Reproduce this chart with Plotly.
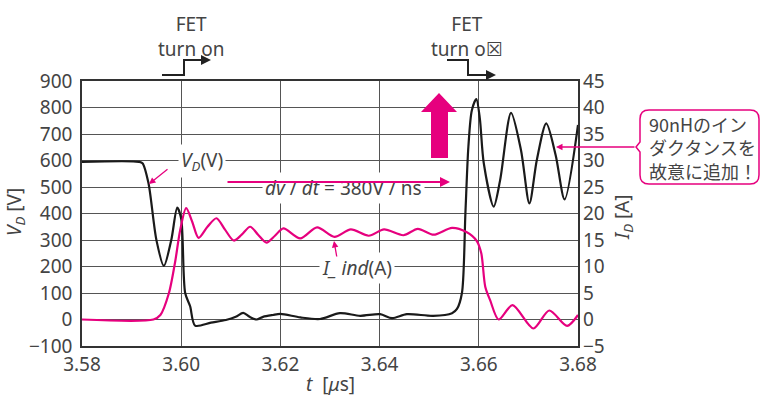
import plotly.graph_objects as go

# ---------------- data ----------------
t_vd = [3.580, 3.5915, 3.5922, 3.5934, 3.5950, 3.5965, 3.5980, 3.5992, 3.6000, 3.6008,
        3.6018, 3.6028, 3.6060, 3.6090, 3.6110, 3.6125, 3.6138, 3.6152, 3.6165, 3.6185,
        3.6200, 3.6240, 3.6280, 3.6320, 3.6361, 3.6401, 3.6425, 3.6455, 3.6508, 3.6546,
        3.6556, 3.6566, 3.6573, 3.6579, 3.6586, 3.6595, 3.6602, 3.6610, 3.6630, 3.6643,
        3.6665, 3.6685, 3.6702, 3.6717, 3.6736, 3.6755, 3.6773, 3.6800]
v_d = [595, 595, 590, 515, 300, 202, 300, 422, 380, 100,
       50, -23, -12, -2, 10, 25, 10, 0, 10, 17,
       21, 8, 2, 24, 14, 20, 5, 20, 14, 24,
       40, 100, 402, 652, 790, 832, 760, 590, 426, 526,
       780, 640, 438, 602, 740, 620, 453, 734]

t_i = [3.580, 3.5944, 3.5958, 3.5975, 3.5988, 3.5998, 3.6010, 3.6022, 3.6035, 3.6053,
       3.6071, 3.6088, 3.6106, 3.6122, 3.6139, 3.6155, 3.6172, 3.6189, 3.6206, 3.6240,
       3.6274, 3.6309, 3.6342, 3.6378, 3.6409, 3.6448, 3.6477, 3.6509, 3.6546, 3.6575,
       3.6596, 3.6605, 3.6613, 3.6623, 3.6640, 3.6668, 3.6710, 3.6742, 3.6778, 3.6800]
i_ind = [0, 0, 0.85, 4.9, 11, 16.9, 21.0, 18.5, 15.4, 17.5,
         19.1, 17.0, 14.9, 16.0, 17.5, 16.0, 14.5, 15.8, 17.2, 15.3,
         17.4, 15.6, 17.0, 15.8, 17.0, 15.9, 17.1, 16.0, 17.3, 16.5,
         14.8, 12.5, 6.2, 3.6, 0, 2.7, -1.7, 1.7, -1.2, 0.85]

x_ticks = [3.58, 3.60, 3.62, 3.64, 3.66, 3.68]
x_tick_labels = ["3.58", "3.60", "3.62", "3.64", "3.66", "3.68"]

# ---------------- layout helpers ----------------
W, H = 760, 395
L, R, T, B = 82, 578, 81, 346
MAG = "#e6007e"
TXT = "#444444"
FONT = "Noto Sans, DejaVu Sans, sans-serif"
JFONT = "Noto Sans CJK JP, Noto Sans, sans-serif"


def px(x):
    return (x - L) / (R - L)


def py(y):
    return (B - y) / (B - T)


fig = go.Figure()
fig.add_trace(go.Scatter(x=t_i, y=i_ind, yaxis="y2", mode="lines",
                         line=dict(color=MAG, width=2.2, shape="spline", smoothing=0.8),
                         showlegend=False, hoverinfo="skip"))
fig.add_trace(go.Scatter(x=t_vd, y=v_d, mode="lines",
                         line=dict(color="#1a1a1a", width=2.2, shape="spline", smoothing=0.8),
                         showlegend=False, hoverinfo="skip"))

axis_font = dict(family=FONT, size=19, color=TXT)
fig.update_layout(
    width=W, height=H,
    margin=dict(l=L, r=W - R, t=T, b=H - B),
    plot_bgcolor="white", paper_bgcolor="white",
    xaxis=dict(range=[3.58, 3.68], tickvals=x_ticks, ticktext=x_tick_labels,
               showgrid=True, gridcolor="#555", gridwidth=1, zeroline=False,
               showline=True, linecolor="#333", linewidth=1.5, mirror=True,
               ticks="", tickfont=axis_font),
    yaxis=dict(range=[-100, 900], dtick=100, showgrid=True, gridcolor="#555", gridwidth=1,
               zeroline=False, showline=True, linecolor="#333", linewidth=1.5, mirror=True,
               ticks="", tickfont=axis_font, ticklabelstandoff=4),
    yaxis2=dict(range=[-5, 45], dtick=5, overlaying="y", side="right", showgrid=False,
                zeroline=False, showline=False, ticks="", tickfont=axis_font,
                ticklabelstandoff=4),
)

shapes = []
anns = []


def text_ann(x, y, text, size=19, family=FONT, **kw):
    d = dict(xref="paper", yref="paper", x=px(x), y=py(y), text=text, showarrow=False,
             xanchor="center", yanchor="middle",
             font=dict(family=family, size=size, color=TXT))
    d.update(kw)
    anns.append(d)


def arrow_ann(x, y, ax, ay, color, width):
    anns.append(dict(xref="paper", yref="paper", x=px(x), y=py(y), ax=ax, ay=ay,
                     showarrow=True, arrowhead=2, arrowsize=1, arrowwidth=width,
                     arrowcolor=color, text="", xanchor="center", yanchor="middle"))


# step arrows for FET turn on / off
shapes.append(dict(type="path", xref="paper", yref="paper",
                   path=f"M {px(162)} {py(75)} L {px(184)} {py(75)} L {px(184)} {py(60)} L {px(200)} {py(60)}",
                   line=dict(color="#222", width=2)))
arrow_ann(211, 60, -27, 0, "#222", 2)
shapes.append(dict(type="path", xref="paper", yref="paper",
                   path=f"M {px(447)} {py(60)} L {px(468)} {py(60)} L {px(468)} {py(75)} L {px(485)} {py(75)}",
                   line=dict(color="#222", width=2)))
arrow_ann(496, 75, -28, 0, "#222", 2)

text_ann(191, 36, "FET<br>turn on", align="center")
text_ann(467, 36, "FET<br>turn o☒", align="center")

# big magenta up arrow
shapes.append(dict(type="path", xref="paper", yref="paper",
                   path=(f"M {px(439)} {py(93)} L {px(457)} {py(112)} L {px(448)} {py(112)} "
                         f"L {px(448)} {py(158)} L {px(431)} {py(158)} L {px(431)} {py(112)} "
                         f"L {px(421)} {py(112)} Z"),
                   fillcolor=MAG, line=dict(width=0)))

# labels with white background on the grid lines
text_ann(202, 161, "<i>V<sub>D</sub></i>(V)", bgcolor="white", borderpad=2)
text_ann(343, 188, "<i>dv</i> / <i>dt</i> = 380V / ns", bgcolor="white", borderpad=2)
text_ann(357, 268, "<i>I_ ind</i>(A)", bgcolor="white", borderpad=2)

# small magenta pointer arrows
arrow_ann(149, 184, 20, -16, MAG, 1.3)
arrow_ann(334, 241, 3, 17, MAG, 1.3)
arrow_ann(450, 182, -224, 0, MAG, 2)
arrow_ann(556, 147, 80, 0, MAG, 1.3)

# callout box
bx0, bx1, by0, by1, r = 640, 759, 110, 184, 9
box = (f"M {px(bx0 + r)} {py(by0)} L {px(bx1 - r)} {py(by0)} "
       f"Q {px(bx1)} {py(by0)} {px(bx1)} {py(by0 + r)} L {px(bx1)} {py(by1 - r)} "
       f"Q {px(bx1)} {py(by1)} {px(bx1 - r)} {py(by1)} L {px(bx0 + r)} {py(by1)} "
       f"Q {px(bx0)} {py(by1)} {px(bx0)} {py(by1 - r)} L {px(bx0)} {py(152)} "
       f"L {px(636)} {py(147)} L {px(bx0)} {py(142)} L {px(bx0)} {py(by0 + r)} "
       f"Q {px(bx0)} {py(by0)} {px(bx0 + r)} {py(by0)} Z")
shapes.append(dict(type="path", xref="paper", yref="paper", path=box,
                   fillcolor="white", line=dict(color=MAG, width=1.5)))
text_ann(647, 147, "90nHのイン<br>ダクタンスを<br>故意に追加！", size=18, family=JFONT,
         xanchor="left", align="left")

# axis titles
text_ann(15, 212, "<i>V<sub>D</sub></i> [V]", textangle=-90)
text_ann(623, 217, "<i>I<sub>D</sub></i> [A]", textangle=-90)
text_ann(330, 384, "<i>t</i>  [<i>μ</i>s]")

fig.update_layout(shapes=shapes, annotations=anns)
fig.write_html("out.html")
